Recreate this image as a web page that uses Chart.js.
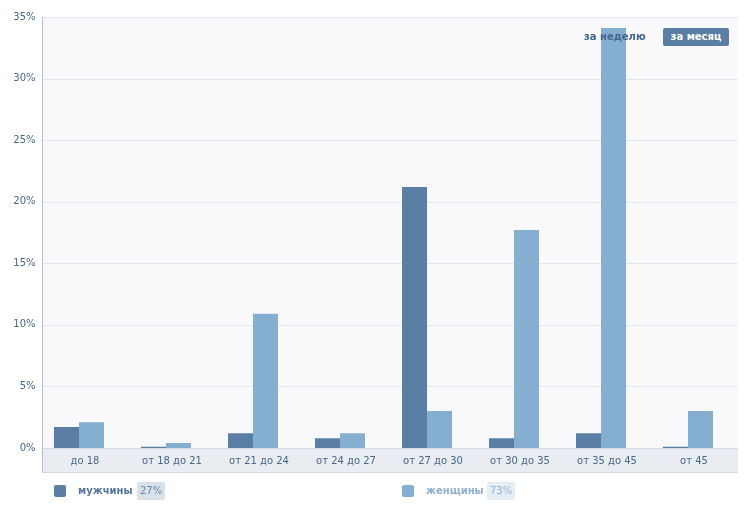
<!DOCTYPE html>
<html lang="ru">
<head>
<meta charset="utf-8">
<title>Возраст аудитории</title>
<script src="https://cdn.jsdelivr.net/npm/chart.js@4.4.1/dist/chart.umd.min.js"></script>
<style>
  html, body { margin: 0; padding: 0; background: #fff; }
  #wrap { position: relative; width: 746px; height: 511px; font-family: "DejaVu Sans", sans-serif; }
  #ageChart { position: absolute; left: 0; top: 0; }
  .period { position: absolute; top: 28px; height: 18px; line-height: 18px; font-size: 10px; font-weight: bold; color: #45678c; }
  .period.week { left: 584px; }
  .period.month { left: 663px; width: 66px; text-align: center; background: #5b7ea5; color: #fff; border-radius: 2px; }
  .legend-item { position: absolute; top: 482px; height: 18px; line-height: 18px; font-size: 10px; }
  .legend-item .swatch { position: absolute; left: 0; top: 3px; width: 12px; height: 12px; border-radius: 2px; }
  .legend-item .name { position: absolute; left: 24px; top: 0; font-weight: bold; white-space: nowrap; }
  .legend-item .share { position: absolute; top: 0; padding: 0 3px; border-radius: 2px; white-space: nowrap; }
</style>
</head>
<body>
<div id="wrap">
  <canvas id="ageChart" width="746" height="511"></canvas>
  <div id="overlay"></div>
</div>
<script>
// age groups and share of audience, percent
const categories = ["до 18", "от 18 до 21", "от 21 до 24", "от 24 до 27", "от 27 до 30", "от 30 до 35", "от 35 до 45", "от 45"];
const menValues = [1.7, 0.1, 1.2, 0.8, 21.2, 0.8, 1.2, 0.1];
const womenValues = [2.1, 0.4, 10.9, 1.2, 3.0, 17.7, 34.1, 3.0];
const yMax = 35;
const yStep = 5;

const seriesNames = ["мужчины", "женщины"];
const seriesShares = ["27%", "73%"];
const periodLabels = ["за неделю", "за месяц"];

const menColor = "#5b7ea5";
const womenColor = "#85afd0";
const tickColor = "#4a6789";

// plot panel sits a bit to the right of the bar grid, like in the original
const panelShift = 6.5;
const bandHeight = 25;

const panelPlugin = {
  id: "panel",
  beforeDraw(chart) {
    const { ctx, chartArea } = chart;
    const yScale = chart.scales.y;
    const left = chartArea.left + panelShift;
    const right = chartArea.right + panelShift;
    const top = chartArea.top;
    const bottom = chartArea.bottom;

    ctx.save();
    ctx.fillStyle = "#f9f9fb";
    ctx.fillRect(left, top, right - left, bottom - top);

    // horizontal grid
    ctx.strokeStyle = "#e3e6ee";
    ctx.lineWidth = 1;
    for (let v = yStep; v <= yMax; v += yStep) {
      const py = Math.round(yScale.getPixelForValue(v)) + 0.5;
      ctx.beginPath();
      ctx.moveTo(left, py);
      ctx.lineTo(right, py);
      ctx.stroke();
    }

    // label band under the bars
    ctx.fillStyle = "#e9edf2";
    ctx.fillRect(left, bottom, right - left, bandHeight);
    ctx.strokeStyle = "#d3dae3";
    ctx.beginPath();
    ctx.moveTo(left, bottom + 0.5);
    ctx.lineTo(right, bottom + 0.5);
    ctx.moveTo(left, bottom + bandHeight - 0.5);
    ctx.lineTo(right, bottom + bandHeight - 0.5);
    ctx.stroke();

    // left axis line
    ctx.strokeStyle = "#b3c1d1";
    ctx.beginPath();
    ctx.moveTo(Math.round(left) + 0.5, top);
    ctx.lineTo(Math.round(left) + 0.5, bottom + bandHeight);
    ctx.stroke();
    ctx.restore();
  }
};

const ctx = document.getElementById("ageChart").getContext("2d");
const ageChart = new Chart(ctx, {
  type: "bar",
  data: {
    labels: categories,
    datasets: [
      {
        label: seriesNames[0],
        data: menValues,
        backgroundColor: menColor,
        borderWidth: 0,
      },
      {
        label: seriesNames[1],
        data: womenValues,
        backgroundColor: womenColor,
        borderWidth: 0,
      },
    ],
  },
  options: {
    responsive: false,
    devicePixelRatio: 1,
    animation: false,
    layout: { padding: { top: 17, left: 0, right: 14.5, bottom: 38 } },
    datasets: {
      bar: { categoryPercentage: 0.575, barPercentage: 1.0 },
    },
    plugins: {
      legend: { display: false },
      tooltip: { enabled: false },
    },
    scales: {
      x: {
        grid: { display: false, drawTicks: false },
        border: { display: false },
        ticks: {
          color: tickColor,
          font: { family: "DejaVu Sans", size: 10 },
          padding: 7,
          labelOffset: 6,
          maxRotation: 0,
          autoSkip: false,
        },
        afterFit(scale) { scale.height = bandHeight; },
      },
      y: {
        min: 0,
        max: yMax,
        grid: { display: false, drawTicks: false },
        border: { display: false },
        ticks: {
          stepSize: yStep,
          color: tickColor,
          font: { family: "DejaVu Sans", size: 10 },
          padding: 0,
          callback: (v) => v + "%",
        },
        afterFit(scale) { scale.width = 35.5; },
      },
    },
  },
  plugins: [panelPlugin],
});

// period switch and legend as html text on top of the canvas
const overlay = document.getElementById("overlay");
const week = document.createElement("div");
week.className = "period week";
week.textContent = periodLabels[0];
overlay.appendChild(week);
const month = document.createElement("div");
month.className = "period month";
month.textContent = periodLabels[1];
overlay.appendChild(month);

const legendLayout = [
  { left: 54, shareLeft: 83, color: menColor, nameColor: "#55769a", shareBg: "#d9e1ea", shareColor: "#6b88a8" },
  { left: 402, shareLeft: 85, color: womenColor, nameColor: "#8fb0cf", shareBg: "#e5edf5", shareColor: "#93b4d3" },
];
seriesNames.forEach((name, i) => {
  const l = legendLayout[i];
  const item = document.createElement("div");
  item.className = "legend-item";
  item.style.left = l.left + "px";
  item.innerHTML =
    '<span class="swatch" style="background:' + l.color + '"></span>' +
    '<span class="name" style="color:' + l.nameColor + '">' + name + "</span>" +
    '<span class="share" style="left:' + l.shareLeft + "px;background:" + l.shareBg + ";color:" + l.shareColor + '">' + seriesShares[i] + "</span>";
  overlay.appendChild(item);
});
</script>
</body>
</html>
